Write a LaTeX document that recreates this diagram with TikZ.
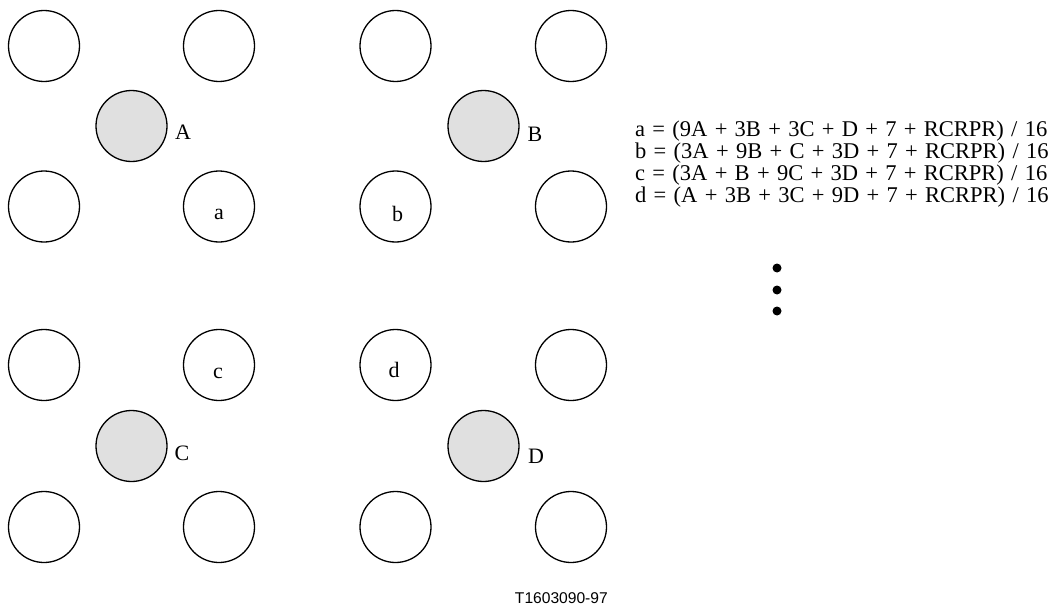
\documentclass[tikz,border=0pt]{standalone}
\usepackage{fontspec}
\setmainfont{Liberation Serif}
\newfontfamily\labelsans{Liberation Sans}
\newcommand{\myeqfont}{\fontsize{22.5}{21.7}\selectfont\spaceskip=7.3pt plus 0pt minus 0pt\relax}
\begin{document}
\begin{tikzpicture}[x=1pt,y=-1pt,
  pix/.style={circle,draw=black,line width=1.3pt,minimum size=71pt,inner sep=0pt},
  refpix/.style={pix,fill=refgray},
  lbl/.style={anchor=base,font=\fontsize{22}{22}\selectfont,inner sep=0pt},
  eqn/.style={anchor=base west,inner sep=0pt,align=left},
  dotm/.style={circle,fill=black,minimum size=9pt,inner sep=0pt}]
\definecolor{refgray}{HTML}{E0E0E0}
\useasboundingbox (0,0) rectangle (1063,610);
% top group
\node[pix] (p11) at (44,46) {};
\node[pix] (p12) at (219,46) {};
\node[pix] (p13) at (395.5,46) {};
\node[pix] (p14) at (571,46) {};
\node[refpix] (A) at (131.5,126) {};
\node[refpix] (B) at (483.5,126) {};
\node[pix] (p21) at (44,206.5) {};
\node[pix] (pa) at (219,206.5) {};
\node[pix] (pb) at (395.5,206.5) {};
\node[pix] (p24) at (571,206.5) {};
% bottom group
\node[pix] (p31) at (44,365) {};
\node[pix] (pc) at (219,365) {};
\node[pix] (pd) at (395.5,365) {};
\node[pix] (p34) at (571,365) {};
\node[refpix] (C) at (131.5,446) {};
\node[refpix] (D) at (483.5,446) {};
\node[pix] (p41) at (44,527) {};
\node[pix] (p42) at (219,527) {};
\node[pix] (p43) at (395.5,527) {};
\node[pix] (p44) at (571,527) {};
% labels
\node[lbl] (lA) at (183,139) {A};
\node[lbl] (lB) at (535,141) {B};
\node[lbl] (lC) at (182,460) {C};
\node[lbl] (lD) at (536,463) {D};
\node[lbl] (la) at (219,219) {a};
\node[lbl] (lb) at (397.5,221) {b};
\node[lbl] (lc) at (218,378) {c};
\node[lbl] (ld) at (394,377) {d};
% equations
\node[eqn,font=\myeqfont] (eq) at (635,202) {a = (9A + 3B + 3C + D + 7 + RCRPR) / 16\\
b = (3A + 9B + C + 3D + 7 + RCRPR) / 16\\
c = (3A + B + 9C + 3D + 7 + RCRPR) / 16\\
d = (A + 3B + 3C + 9D + 7 + RCRPR) / 16};
\node[dotm] (d1) at (777,268) {};
\node[dotm] (d2) at (777,290) {};
\node[dotm] (d3) at (777,311) {};
% figure id
\node[anchor=base east,inner sep=0pt,font=\labelsans\fontsize{15.6}{16}\selectfont] (fid) at (608,603) {T1603090-97};
\end{tikzpicture}
\end{document}
